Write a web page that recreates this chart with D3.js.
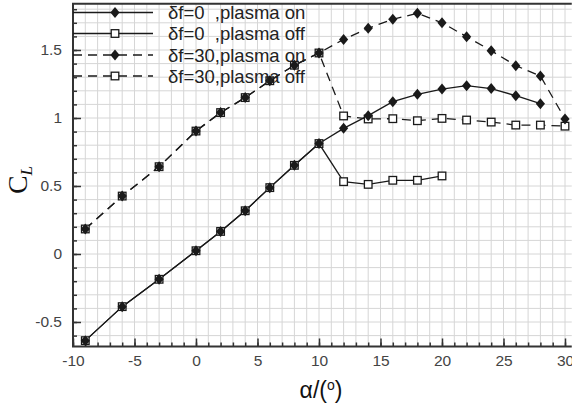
<!DOCTYPE html>
<html>
<head>
<meta charset="utf-8">
<script src="https://cdn.jsdelivr.net/npm/d3@7"></script>
<style>
    body { margin: 0; background: #fff; }
    svg { display: block; }
    .legend-text { white-space: pre; }
</style>
</head>
<body>
<svg id="chart" width="572" height="413"></svg>
<script>
//angle of attack values for each series
const alphaOn0 = [-9, -6, -3, 0, 2, 4, 6, 8, 10, 12, 14, 16, 18, 20, 22, 24, 26, 28];
const alphaOff0 = [-9, -6, -3, 0, 2, 4, 6, 8, 10, 12, 14, 16, 18, 20];
const alpha30 = [-9, -6, -3, 0, 2, 4, 6, 8, 10, 12, 14, 16, 18, 20, 22, 24, 26, 28, 30];

//lift coefficient
const clOn0 = [-0.637, -0.387, -0.186, 0.024, 0.166, 0.318, 0.488, 0.652, 0.812, 0.924, 1.017, 1.12, 1.174, 1.213, 1.238, 1.216, 1.164, 1.105];
const clOff0 = [-0.637, -0.387, -0.186, 0.024, 0.166, 0.318, 0.488, 0.652, 0.812, 0.532, 0.512, 0.542, 0.542, 0.574];
const clOn30 = [0.184, 0.426, 0.642, 0.904, 1.04, 1.15, 1.274, 1.388, 1.478, 1.578, 1.66, 1.726, 1.77, 1.70, 1.598, 1.495, 1.385, 1.309, 0.993];
const clOff30 = [0.184, 0.426, 0.642, 0.904, 1.04, 1.15, 1.274, 1.388, 1.478, 1.015, 0.993, 0.995, 0.98, 0.997, 0.985, 0.97, 0.948, 0.948, 0.94];

//legend labels
const legendLabels = ["\u03b4f=0  ,plasma on", "\u03b4f=0  ,plasma off", "\u03b4f=30,plasma on", "\u03b4f=30,plasma off"];

//tick values
const xTicks = [-10, -5, 0, 5, 10, 15, 20, 25, 30];
const yTicks = [-0.5, 0, 0.5, 1, 1.5];

const series = [
    { x: alphaOn0, y: clOn0, dashed: false, marker: "diamond" },
    { x: alphaOff0, y: clOff0, dashed: false, marker: "square" },
    { x: alpha30, y: clOn30, dashed: true, marker: "diamond" },
    { x: alpha30, y: clOff30, dashed: true, marker: "square" }
];

const svg = d3.select("#chart");
const ink = "#1a1a1a";
const font = "'Liberation Sans', Arial, sans-serif";

//scales: x=-10 sits on the left axis, y range is clipped by the frame
const xMin = -10, xMax = 30.55, yMin = -0.68, yMax = 1.84;
const x = d3.scaleLinear().domain([-10, 30]).range([73, 565]);
const y = d3.scaleLinear().domain([0, 1]).range([254, 118]);
const plotL = x(xMin), plotR = x(xMax), plotT = y(yMax), plotB = y(yMin);

//grid lines every 1 deg and every 0.1 CL
const grid = svg.append("g").attr("stroke", "#d6d6d6").attr("stroke-width", 1);
d3.range(-9, 31, 1).forEach(v => {
    grid.append("line").attr("x1", x(v)).attr("x2", x(v)).attr("y1", plotT).attr("y2", plotB);
});
d3.range(-6, 19, 1).map(v => v / 10).forEach(v => {
    grid.append("line").attr("x1", plotL).attr("x2", plotR).attr("y1", y(v)).attr("y2", y(v));
});

//inward ticks on bottom axis
const xMinorAxis = d3.axisBottom(x).tickValues(d3.range(-10, 31, 1)).tickSize(-4).tickFormat("");
const xMajorAxis = d3.axisBottom(x).tickValues(xTicks).tickSize(-8).tickPadding(9).tickFormat(d => String(d));
[xMinorAxis, xMajorAxis].forEach(ax => {
    const g = svg.append("g").attr("transform", `translate(0,${plotB})`).call(ax);
    g.select(".domain").remove();
    g.selectAll("line").attr("stroke", "#333").attr("stroke-width", 1.5);
    g.selectAll("text").attr("font-family", font).attr("font-size", 15.5).attr("fill", "#444");
});

//inward ticks on left axis
const yMinorAxis = d3.axisLeft(y).tickValues(d3.range(-6, 19, 1).map(v => v / 10)).tickSize(-4).tickFormat("");
const yMajorAxis = d3.axisLeft(y).tickValues(yTicks).tickSize(-8).tickPadding(11).tickFormat(d => String(d));
[yMinorAxis, yMajorAxis].forEach(ax => {
    const g = svg.append("g").attr("transform", `translate(${plotL},0)`).call(ax);
    g.select(".domain").remove();
    g.selectAll("line").attr("stroke", "#333").attr("stroke-width", 1.5);
    g.selectAll("text").attr("font-family", font).attr("font-size", 15.5).attr("fill", "#444");
});

//frame
svg.append("path")
    .attr("d", `M${plotR},${plotT}H${plotL}V${plotB}H${plotR}`)
    .attr("fill", "none").attr("stroke", "#333").attr("stroke-width", 2);

//marker drawing
function drawMarker(g, kind, cx, cy) {
    if (kind === "diamond") {
        g.append("path")
            .attr("d", `M${cx},${cy - 5.5}L${cx + 4.6},${cy}L${cx},${cy + 5.5}L${cx - 4.6},${cy}Z`)
            .attr("fill", ink);
    } else {
        g.append("rect")
            .attr("x", cx - 3.8).attr("y", cy - 3.8).attr("width", 7.6).attr("height", 7.6)
            .attr("fill", "#fff").attr("stroke", ink).attr("stroke-width", 1.3);
    }
}

const line = d3.line().x(d => x(d[0])).y(d => y(d[1]));

//lines first
series.forEach(s => {
    const pts = s.x.map((a, i) => [a, s.y[i]]);
    svg.append("path")
        .attr("d", line(pts))
        .attr("fill", "none")
        .attr("stroke", ink)
        .attr("stroke-width", 1.3)
        .attr("stroke-dasharray", s.dashed ? "9,6" : null);
});
//open squares under diamonds, so shared points look filled
series.filter(s => s.marker === "square").concat(series.filter(s => s.marker === "diamond")).forEach(s => {
    const g = svg.append("g");
    s.x.forEach((a, i) => drawMarker(g, s.marker, x(a), y(s.y[i])));
});

//legend in the top left corner
const legendRows = [12.5, 33.5, 55, 76];
series.forEach((s, i) => {
    const g = svg.append("g");
    g.append("line")
        .attr("x1", plotL).attr("x2", 153).attr("y1", legendRows[i]).attr("y2", legendRows[i])
        .attr("stroke", ink).attr("stroke-width", 1.3)
        .attr("stroke-dasharray", s.dashed ? "9,6" : null);
    drawMarker(g, s.marker, 115, legendRows[i]);
    g.append("text")
        .attr("class", "legend-text")
        .attr("x", 168).attr("y", legendRows[i]).attr("dy", "0.36em")
        .attr("font-family", font).attr("font-size", 18.5).attr("fill", "#222")
        .text(legendLabels[i]);
});

//axis titles
const cl = svg.append("text")
    .attr("transform", "translate(27,180) rotate(-90)")
    .attr("text-anchor", "middle")
    .attr("font-family", "'Liberation Serif', 'Times New Roman', serif")
    .attr("font-size", 28).attr("fill", "#111");
cl.append("tspan").text("C");
cl.append("tspan").attr("font-size", 17).attr("font-style", "italic").attr("dy", 5).text("L");

const al = svg.append("text")
    .attr("x", 321).attr("y", 398)
    .attr("text-anchor", "middle")
    .attr("font-family", font)
    .attr("font-size", 23).attr("fill", "#111");
al.append("tspan").text("\u03b1/(");
al.append("tspan").attr("font-size", 14).attr("dy", -8).text("o");
al.append("tspan").attr("dy", 8).text(")");
</script>
</body>
</html>
